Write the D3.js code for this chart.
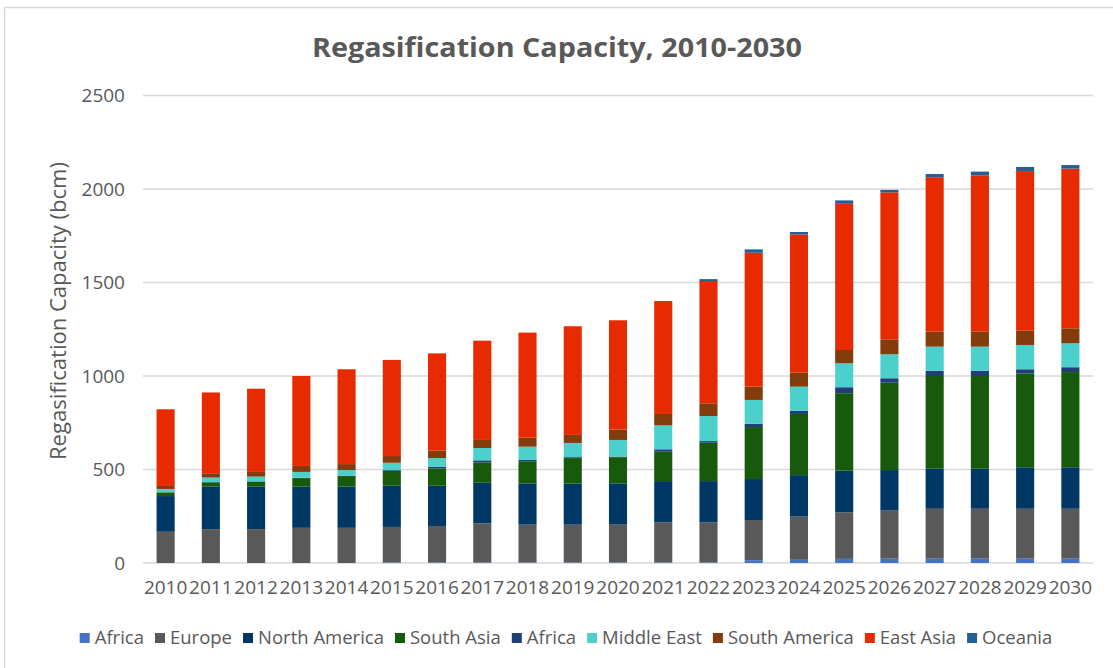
<!DOCTYPE html>
<html>
<head>
<meta charset="utf-8">
<script src="https://cdn.jsdelivr.net/npm/d3@7/dist/d3.min.js"></script>
<style>
  html, body { margin: 0; padding: 0; background: #fff; }
  svg { display: block; }
  text { font-family: "Open Sans", "Noto Sans", sans-serif; fill: #595959; }
</style>
</head>
<body>
<svg id="chart" width="1113" height="668"></svg>
<script>
// Regasification capacity by region, bcm, stacked bottom-to-top in series order
const years = ["2010","2011","2012","2013","2014","2015","2016","2017","2018","2019","2020",
               "2021","2022","2023","2024","2025","2026","2027","2028","2029","2030"];

const seriesNames  = ["Africa","Europe","North America","South Asia","Africa","Middle East","South America","East Asia","Oceania"];
const seriesColors = ["#4472C4","#595959","#003865","#185A0B","#203F78","#4BD0CC","#843C0C","#E82A00","#255E91"];

const africaA      = [0,0,0,0,0,3,3,3,3,3,3,3,3,15,17,22,23,23,23,23,23];
const europe       = [167,181,181,188,188,190,195,209,202,202,202,215,215,215,231,249,257,267,267,267,267];
const northAmerica = [191,227,227,220,220,220,215,217,221,219,221,220,220,219,222,223,217,214,214,222,222];
const southAsia    = [20,23,27,46,57,80,93,109,118,137,140,157,205,278,327,414,467,496,496,502,509];
const africaB      = [0,2,2,2,2,4,9,11,7,5,3,13,9,17,17,32,24,28,28,22,26];
const middleEast   = [18,24,25,31,30,39,46,66,71,76,89,128,134,128,129,128,128,129,129,130,128];
const southAmerica = [16,23,25,32,32,36,41,43,48,43,56,61,68,71,75,71,80,80,80,76,80];
const eastAsia     = [410,432,445,481,507,514,519,531,562,581,584,604,654,716,738,782,786,826,836,854,854];
const oceania      = [0,0,0,0,0,0,0,0,0,0,0,0,10,18,14,18,13,17,20,22,19];

const yTicks = [0,500,1000,1500,2000,2500];

const seriesValues = [africaA, europe, northAmerica, southAsia, africaB, middleEast, southAmerica, eastAsia, oceania];

// table for d3.stack: one row per year, one key per series index
const keys = seriesValues.map((_, i) => "s" + i);
const table = years.map((yr, j) => {
  const row = { year: yr };
  seriesValues.forEach((arr, i) => { row["s" + i] = arr[j]; });
  return row;
});

const svg = d3.select("#chart");

// outer frame of the chart area
svg.append("path")
  .attr("d", "M4.5,668 L4.5,7.5 L1113,7.5")
  .attr("fill", "none")
  .attr("stroke", "#d9d9d9")
  .attr("stroke-width", 1.5);

const x = d3.scaleBand()
  .domain(years)
  .range([143, 1093])
  .paddingInner(0.6)
  .paddingOuter(0.3);

const y = d3.scaleLinear()
  .domain([0, 2500])
  .range([563, 95.5]);

// horizontal gridlines
svg.append("g")
  .selectAll("line")
  .data(yTicks)
  .join("line")
  .attr("x1", 143).attr("x2", 1093)
  .attr("y1", d => y(d)).attr("y2", d => y(d))
  .attr("stroke", "#d9d9d9")
  .attr("stroke-width", 1.5);

// y tick labels
svg.append("g")
  .selectAll("text")
  .data(yTicks)
  .join("text")
  .attr("x", 125)
  .attr("y", d => y(d))
  .attr("dy", "0.35em")
  .attr("text-anchor", "end")
  .style("font-size", "19px")
  .text(d => d);

// x tick labels
svg.append("g")
  .selectAll("text")
  .data(years)
  .join("text")
  .attr("x", d => x(d) + x.bandwidth() / 2)
  .attr("y", 594)
  .attr("text-anchor", "middle")
  .style("font-size", "19px")
  .text(d => d);

// stacked bars
const stacked = d3.stack().keys(keys)(table);

svg.append("g")
  .selectAll("g")
  .data(stacked)
  .join("g")
  .attr("fill", (d, i) => seriesColors[i])
  .selectAll("rect")
  .data(d => d)
  .join("rect")
  .attr("x", d => x(d.data.year))
  .attr("width", x.bandwidth())
  .attr("y", d => y(d[1]))
  .attr("height", d => Math.max(0, y(d[0]) - y(d[1])));

// chart title
svg.append("text")
  .attr("x", 557)
  .attr("y", 57)
  .attr("text-anchor", "middle")
  .attr("textLength", 490)
  .attr("lengthAdjust", "spacingAndGlyphs")
  .style("font-size", "26px")
  .style("font-weight", "bold")
  .text("Regasification Capacity, 2010-2030");

// y axis title
svg.append("text")
  .attr("transform", "translate(66,311) rotate(-90)")
  .attr("text-anchor", "middle")
  .attr("textLength", 298)
  .attr("lengthAdjust", "spacingAndGlyphs")
  .style("font-size", "22px")
  .text("Regasification Capacity (bcm)");

// legend
const legend = svg.append("g");
const items = legend.selectAll("g")
  .data(seriesNames)
  .join("g");

items.append("rect")
  .attr("width", 10).attr("height", 10)
  .attr("y", -5)
  .attr("fill", (d, i) => seriesColors[i]);

items.append("text")
  .attr("x", 15)
  .attr("dy", "0.35em")
  .style("font-size", "18.5px")
  .text(d => d);

let cursor = 0;
const offsets = [];
items.each(function () {
  offsets.push(cursor);
  const w = this.querySelector("text").getComputedTextLength();
  cursor += 15 + w + 11;
});
const total = cursor - 11;
const startX = 566 - total / 2;
items.attr("transform", (d, i) => `translate(${startX + offsets[i]},638)`);
</script>
</body>
</html>
